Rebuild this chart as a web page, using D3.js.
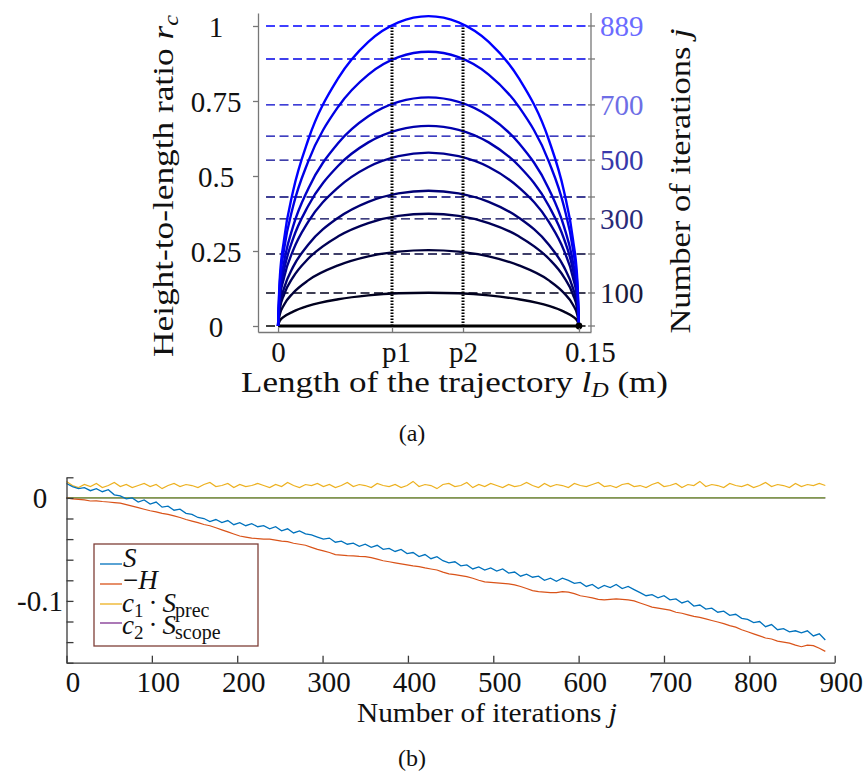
<!DOCTYPE html>
<html><head><meta charset="utf-8">
<script src="https://cdn.jsdelivr.net/npm/d3@7"></script>
<style>
body{margin:0;background:#fff}
svg{display:block}
</style>
</head><body>
<svg id="c" width="868" height="776"></svg>
<script>
// ---------------- DATA: panel (a) ----------------
const curveIterations = [0, 100, 200, 300, 400, 500, 600, 700, 800, 889];
const lengthSamples = [0, 0.00075, 0.003, 0.0075, 0.015, 0.03, 0.045, 0.06, 0.075, 0.09, 0.105, 0.12, 0.135, 0.1425, 0.147, 0.14925, 0.15];
const ratioJ0   = [0,0,0,0,0,0,0,0,0,0,0,0,0,0,0,0,0];
const ratioJ100 = [0,.016,.031,.048,.067,.089,.102,.109,.111,.109,.102,.089,.067,.048,.031,.016,0];
const ratioJ200 = [0,.036,.071,.110,.152,.202,.232,.248,.253,.248,.232,.202,.152,.110,.071,.036,0];
const ratioJ300 = [0,.053,.105,.163,.224,.299,.343,.367,.374,.367,.343,.299,.224,.163,.105,.053,0];
const ratioJ400 = [0,.064,.126,.197,.271,.361,.414,.442,.451,.442,.414,.361,.271,.197,.126,.064,0];
const ratioJ500 = [0,.082,.162,.252,.347,.462,.530,.566,.578,.566,.530,.462,.347,.252,.162,.082,0];
const ratioJ600 = [0,.094,.187,.291,.400,.534,.612,.654,.667,.654,.612,.534,.400,.291,.187,.094,0];
const ratioJ700 = [0,.107,.213,.332,.457,.610,.699,.747,.762,.747,.699,.610,.457,.332,.213,.107,0];
const ratioJ800 = [0,.129,.256,.399,.548,.731,.838,.896,.914,.896,.838,.731,.548,.399,.256,.129,0];
const ratioJ889 = [0,.146,.289,.450,.620,.826,.947,1.012,1.033,1.012,.947,.826,.620,.450,.289,.146,0];
const ratioCurves = [ratioJ0, ratioJ100, ratioJ200, ratioJ300, ratioJ400, ratioJ500, ratioJ600, ratioJ700, ratioJ800, ratioJ889];
const ratioAtP = [0, 0.11, 0.24, 0.357, 0.43, 0.553, 0.633, 0.737, 0.89, 1.0];
const rightTickLabels = ["", "100", "", "300", "", "500", "", "700", "", "889"];
const rightLabelColors = ["#000", "#1a1a3a", "#000", "#2a2a78", "#000", "#3838aa", "#000", "#6e6ee6", "#000", "#6b6bff"];
const leftTickValues = [0, 0.25, 0.5, 0.75, 1];
const leftTickLabels = ["0", "0.25", "0.5", "0.75", "1"];
const p1 = 0.0568, p2 = 0.0922;
const xTickValues = [0, p1, p2, 0.15];
const xTickLabels = ["0", "p1", "p2", "0.15"];

// ---------------- DATA: panel (b) ----------------
const iterations = d3.range(0, 890, 7);
const seriesS = [0.014,0.011,0.009,0.010,0.007,0.009,0.006,0.008,0.003,0.002,-0.001,0.000,-0.004,-0.002,-0.006,-0.004,-0.009,-0.008,-0.012,-0.011,
 -0.015,-0.016,-0.019,-0.020,-0.023,-0.021,-0.024,-0.022,-0.026,-0.024,-0.027,-0.025,-0.028,-0.027,-0.030,-0.028,-0.032,-0.030,-0.034,-0.032,
 -0.035,-0.036,-0.038,-0.040,-0.039,-0.043,-0.042,-0.045,-0.044,-0.047,-0.045,-0.048,-0.046,-0.050,-0.049,-0.052,-0.050,-0.054,-0.053,-0.057,
 -0.055,-0.059,-0.057,-0.061,-0.063,-0.062,-0.066,-0.065,-0.069,-0.067,-0.070,-0.068,-0.071,-0.069,-0.073,-0.072,-0.076,-0.074,-0.077,-0.076,
 -0.080,-0.078,-0.081,-0.078,-0.080,-0.083,-0.082,-0.086,-0.084,-0.088,-0.085,-0.087,-0.084,-0.088,-0.086,-0.089,-0.092,-0.095,-0.094,-0.097,
 -0.095,-0.099,-0.098,-0.102,-0.100,-0.105,-0.104,-0.108,-0.107,-0.111,-0.110,-0.114,-0.113,-0.117,-0.118,-0.121,-0.120,-0.125,-0.123,-0.128,
 -0.127,-0.130,-0.129,-0.131,-0.129,-0.134,-0.132,-0.138];
const seriesNegH = [0.000,-0.001,-0.0015,-0.002,-0.003,-0.0028,-0.0035,-0.004,-0.0045,-0.005,-0.0065,-0.008,-0.0095,-0.011,-0.0125,-0.0135,-0.015,-0.016,-0.0175,-0.019,
 -0.021,-0.0225,-0.024,-0.0258,-0.027,-0.029,-0.031,-0.033,-0.035,-0.037,-0.038,-0.039,-0.0395,-0.040,-0.040,-0.041,-0.042,-0.0425,-0.044,-0.045,
 -0.046,-0.048,-0.050,-0.0515,-0.053,-0.055,-0.0555,-0.056,-0.0563,-0.0568,-0.057,-0.058,-0.0595,-0.061,-0.062,-0.063,-0.064,-0.065,-0.066,-0.0667,
 -0.068,-0.069,-0.070,-0.072,-0.0738,-0.0745,-0.0755,-0.0764,-0.078,-0.080,-0.0815,-0.082,-0.0825,-0.083,-0.0835,-0.0845,-0.086,-0.088,-0.090,-0.091,
 -0.0915,-0.092,-0.092,-0.091,-0.0915,-0.093,-0.095,-0.096,-0.097,-0.0985,-0.099,-0.0985,-0.098,-0.0985,-0.099,-0.100,-0.102,-0.104,-0.106,-0.107,
 -0.108,-0.109,-0.111,-0.112,-0.1135,-0.115,-0.116,-0.1175,-0.119,-0.1205,-0.122,-0.124,-0.1255,-0.128,-0.130,-0.132,-0.134,-0.136,-0.137,-0.139,
 -0.140,-0.141,-0.143,-0.1445,-0.143,-0.1435,-0.146,-0.149];
const seriesPrec = [0.016,0.012,0.010,0.013,0.011,0.014,0.010,0.012,0.015,0.011,0.013,0.010,0.012,0.014,0.011,0.013,0.009,0.012,0.014,0.011,
 0.013,0.012,0.010,0.013,0.015,0.011,0.012,0.014,0.010,0.013,0.011,0.012,0.014,0.012,0.010,0.013,0.011,0.015,0.012,0.010,
 0.013,0.012,0.014,0.011,0.013,0.010,0.012,0.015,0.011,0.013,0.012,0.010,0.014,0.012,0.011,0.013,0.010,0.012,0.016,0.011,
 0.013,0.012,0.009,0.013,0.014,0.011,0.012,0.015,0.010,0.013,0.011,0.014,0.012,0.010,0.013,0.011,0.012,0.015,0.012,0.010,
 0.014,0.011,0.013,0.012,0.010,0.014,0.012,0.011,0.013,0.015,0.011,0.012,0.010,0.013,0.014,0.011,0.012,0.010,0.013,0.015,
 0.011,0.012,0.014,0.010,0.013,0.012,0.016,0.011,0.013,0.012,0.010,0.014,0.012,0.011,0.013,0.010,0.012,0.015,0.011,0.013,
 0.012,0.010,0.014,0.011,0.013,0.012,0.014,0.012];
const scopeIterations = [0, 889];
const seriesScope = [0, 0];
const legendColors = ["#0072BD", "#D95319", "#EDB120", "#7E2F8E"];
const bottomYTicks = [0.02, 0, -0.02, -0.04, -0.06, -0.08, -0.1, -0.12, -0.14, -0.16];
const bottomYLabels = {"0": "0", "-0.1": "-0.1"};
const bottomXTicks = [0, 100, 200, 300, 400, 500, 600, 700, 800, 900];

// ---------------- DRAW ----------------
const svg = d3.select("#c");
const FS = 29;
const SERIF = "'Liberation Serif', 'DejaVu Serif', 'Times New Roman', serif";
const styleText = sel => sel.style("font-family", SERIF).style("fill", "#111");

// ===== Panel (a) =====
const xA = d3.scaleLinear().domain([-0.01, 0.156]).range([258, 591]);
const yA = d3.scaleLinear().domain([-0.02, 1.0433]).range([332, 13]);
const colorOf = j => d3.interpolateRgb("#000000", "#0000ff")(j / 889);

const gA = svg.append("g");

gA.selectAll("line.dash").data(ratioAtP).join("line")
  .attr("x1", xA(-0.006)).attr("x2", xA(0.1545))
  .attr("y1", d => yA(d)).attr("y2", d => yA(d))
  .attr("stroke", (d, i) => colorOf(curveIterations[i]))
  .attr("stroke-width", 1.3).attr("stroke-dasharray", "9 4.5");

const lineA = d3.line().x((d, i) => xA(lengthSamples[i])).y(d => yA(d)).curve(d3.curveMonotoneX);
gA.selectAll("path.curve").data(ratioCurves).join("path")
  .attr("fill", "none")
  .attr("stroke", (d, i) => colorOf(curveIterations[i]))
  .attr("stroke-width", (d, i) => i === 0 ? 2.8 : 2.4)
  .attr("d", lineA);

gA.selectAll("line.pv").data([p1, p2]).join("line")
  .attr("x1", d => xA(d)).attr("x2", d => xA(d))
  .attr("y1", yA(0)).attr("y2", yA(1))
  .attr("stroke", "#000").attr("stroke-width", 3).attr("stroke-dasharray", "1.6 1.4");

gA.append("circle").attr("cx", xA(0.15)).attr("cy", yA(0)).attr("r", 3.4).attr("fill", "#000");

const axL = gA.append("g").attr("transform", `translate(${xA(-0.01)},0)`)
  .call(d3.axisLeft(yA).tickValues(leftTickValues).tickSize(5).tickSizeOuter(0).tickFormat((d, i) => leftTickLabels[i]));
axL.select(".domain").attr("stroke", "#777").attr("stroke-width", 1.3);
axL.selectAll(".tick line").attr("stroke", "#777").attr("stroke-width", 1.3);
axL.selectAll(".tick text").attr("x", -42).attr("dy", "0.35em").attr("text-anchor", "middle")
  .style("font-size", FS + "px").call(styleText);

const axB = gA.append("g").attr("transform", `translate(0,${yA(-0.02)})`)
  .call(d3.axisBottom(xA).tickValues(xTickValues).tickSize(-4).tickSizeOuter(0).tickFormat((d, i) => xTickLabels[i]));
axB.select(".domain").attr("stroke", "#777").attr("stroke-width", 1.3);
axB.selectAll(".tick line").attr("stroke", "#777").attr("stroke-width", 1.3);
axB.selectAll(".tick text").attr("y", 30).attr("dy", 0).attr("dx", (d, i) => i === 3 ? 11 : (i === 1 ? 4 : 0))
  .style("font-size", FS + "px").call(styleText);

const xR = xA(0.156);
gA.append("line").attr("x1", xR).attr("x2", xR).attr("y1", yA(-0.02)).attr("y2", yA(1.0433))
  .attr("stroke", "#777").attr("stroke-width", 1.3);
gA.selectAll("line.rt").data(ratioAtP).join("line")
  .attr("x1", xR - 3).attr("x2", xR + 4)
  .attr("y1", d => yA(d)).attr("y2", d => yA(d))
  .attr("stroke", "#777").attr("stroke-width", 1.3);
gA.selectAll("text.rl").data(ratioAtP).join("text")
  .attr("x", xR + 9).attr("y", d => yA(d)).attr("dy", "0.35em")
  .style("font-size", FS + "px").style("font-family", SERIF)
  .style("fill", (d, i) => rightLabelColors[i])
  .text((d, i) => rightTickLabels[i]);

const tL = svg.append("text").attr("transform", "translate(173,186) rotate(-90)")
  .attr("text-anchor", "middle").style("font-size", FS + "px").call(styleText)
  .attr("textLength", 342).attr("lengthAdjust", "spacingAndGlyphs");
tL.append("tspan").text("Height-to-length ratio ");
tL.append("tspan").attr("font-style", "italic").text("r");
tL.append("tspan").attr("font-style", "italic").style("font-size", "20px").attr("dy", 5).text("c");

const tR = svg.append("text").attr("transform", "translate(690,181) rotate(-90)")
  .attr("text-anchor", "middle").style("font-size", FS + "px").call(styleText)
  .attr("textLength", 305).attr("lengthAdjust", "spacingAndGlyphs");
tR.append("tspan").text("Number of iterations ");
tR.append("tspan").attr("font-style", "italic").text("j");

const tX = svg.append("text").attr("x", 454.5).attr("y", 392)
  .attr("text-anchor", "middle").style("font-size", FS + "px").call(styleText)
  .attr("textLength", 427).attr("lengthAdjust", "spacingAndGlyphs");
tX.append("tspan").text("Length of the trajectory ");
tX.append("tspan").attr("font-style", "italic").text("l");
tX.append("tspan").attr("font-style", "italic").style("font-size", "20px").attr("dy", 5).text("D");
tX.append("tspan").attr("dy", -5).text(" (m)");

svg.append("text").attr("x", 412).attr("y", 441).attr("text-anchor", "middle").style("font-size", "24px").call(styleText).text("(a)");

// ===== Panel (b) =====
const xB = d3.scaleLinear().domain([0, 900]).range([66.5, 834.7]);
const yB = d3.scaleLinear().domain([-0.16, 0.02]).range([662.7, 477.3]);
const gB = svg.append("g");

const lineB = (xs) => d3.line().x((d, i) => xB(xs[i])).y(d => yB(d));
const n = Math.min(iterations.length, seriesS.length, seriesNegH.length, seriesPrec.length);
const cut = a => a.slice(0, n);

gB.append("path").attr("fill", "none").attr("stroke", "#EDB120").attr("stroke-width", 1.2)
  .attr("d", lineB(iterations)(cut(seriesPrec)));
gB.append("path").attr("fill", "none").attr("stroke", "#7E2F8E").attr("stroke-width", 1.2)
  .attr("d", lineB(scopeIterations)(seriesScope));
gB.append("path").attr("fill", "none").attr("stroke", "#77AC30").attr("stroke-width", 1.3)
  .attr("d", lineB(scopeIterations)(seriesScope));
gB.append("path").attr("fill", "none").attr("stroke", "#D95319").attr("stroke-width", 1.2)
  .attr("d", lineB(iterations)(cut(seriesNegH)));
gB.append("path").attr("fill", "none").attr("stroke", "#0072BD").attr("stroke-width", 1.3)
  .attr("d", lineB(iterations)(cut(seriesS)));

const byA = gB.append("g").attr("transform", `translate(${xB(0)},0)`)
  .call(d3.axisLeft(yB).tickValues(bottomYTicks).tickSize(-7).tickSizeOuter(0).tickFormat(""));
const bxA = gB.append("g").attr("transform", `translate(0,${yB(-0.16)})`)
  .call(d3.axisBottom(xB).tickValues(bottomXTicks).tickSize(-7).tickSizeOuter(0).tickFormat(d => d));
[byA, bxA].forEach(a => {
  a.select(".domain").attr("stroke", "#3a3a3a").attr("stroke-width", 1.3);
  a.selectAll(".tick line").attr("stroke", "#3a3a3a").attr("stroke-width", 1.3);
});
bxA.selectAll(".tick text").attr("y", 29).attr("dy", 0).attr("dx", 6)
  .style("font-size", FS + "px").call(styleText);
gB.selectAll("text.byl").data(bottomYTicks.filter(v => bottomYLabels[String(v)] !== undefined)).join("text")
  .attr("x", 40).attr("y", d => yB(d)).attr("dy", "0.35em").attr("text-anchor", "middle")
  .style("font-size", FS + "px").call(styleText).text(d => bottomYLabels[String(d)]);

const lg = gB.append("g");
lg.append("rect").attr("x", 94).attr("y", 544).attr("width", 164).attr("height", 102)
  .attr("fill", "#fff").attr("stroke", "#7f3f38").attr("stroke-width", 1.3);
const legY = [564, 584, 604, 623];
lg.selectAll("line.ls").data(legendColors).join("line")
  .attr("x1", 100).attr("x2", 122).attr("y1", (d, i) => legY[i]).attr("y2", (d, i) => legY[i])
  .attr("stroke", d => d).attr("stroke-width", 1.3);
lg.append("text").attr("x", 123).attr("y", 567).attr("font-style", "italic").style("font-size", "27px").call(styleText).text("S");
const lh = lg.append("text").attr("x", 123).attr("y", 589).style("font-size", "27px").call(styleText);
lh.append("tspan").text("−");
lh.append("tspan").attr("font-style", "italic").text("H");
[["1", "prec", 612], ["2", "scope", 634]].forEach(([k, sub, y]) => {
  const t = lg.append("text").attr("x", 122).attr("y", y).style("font-size", "27px").call(styleText);
  t.append("tspan").attr("font-style", "italic").text("c");
  t.append("tspan").style("font-size", "19px").attr("dy", 5).text(k);
  t.append("tspan").attr("dy", -5).attr("dx", 5).text("·");
  t.append("tspan").attr("dx", 5).attr("font-style", "italic").text("S");
  t.append("tspan").style("font-size", "20px").attr("dy", 5).attr("dx", -1).text(sub);
});

const tB = svg.append("text").attr("x", 487).attr("y", 722)
  .attr("text-anchor", "middle").style("font-size", "28px").call(styleText)
  .attr("textLength", 260).attr("lengthAdjust", "spacingAndGlyphs");
tB.append("tspan").text("Number of iterations ");
tB.append("tspan").attr("font-style", "italic").text("j");

svg.append("text").attr("x", 412).attr("y", 766).attr("text-anchor", "middle").style("font-size", "24px").call(styleText).text("(b)");
</script>
</body></html>
